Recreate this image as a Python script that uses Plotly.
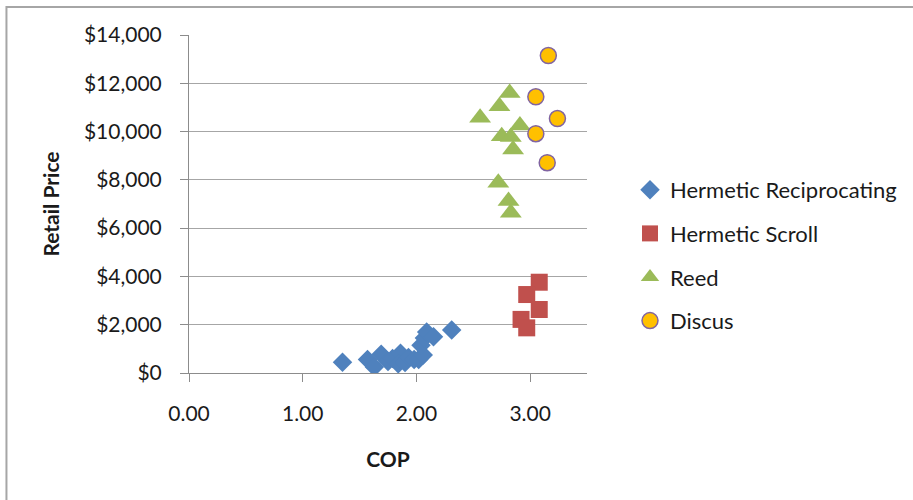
import plotly.graph_objects as go

# COP vs retail price by compressor type
recip_cop = [1.35, 1.57, 1.63, 1.69, 1.75, 1.79, 1.86, 1.84, 1.90, 1.93, 1.98,
             2.02, 2.06, 2.04, 2.07, 2.09, 2.15, 2.31]
recip_price = [450, 560, 250, 780, 480, 600, 820, 380, 430, 640, 560,
               560, 750, 1150, 1450, 1700, 1500, 1780]

scroll_cop = [3.08, 2.97, 3.08, 2.92, 2.97]
scroll_price = [3760, 3250, 2630, 2220, 1870]

reed_cop = [2.82, 2.73, 2.56, 2.91, 2.75, 2.83, 2.85, 2.72, 2.81, 2.83]
reed_price = [11600, 11050, 10570, 10250, 9810, 9780, 9260, 7880, 7120, 6640]

discus_cop = [3.16, 3.05, 3.24, 3.05, 3.15]
discus_price = [13150, 11440, 10540, 9910, 8710]

y_ticks = [0, 2000, 4000, 6000, 8000, 10000, 12000, 14000]
y_labels = ["$" + format(v, ",") for v in y_ticks]
x_ticks = [0, 1, 2, 3]
x_labels = ["0.00", "1.00", "2.00", "3.00"]

FONT = "Lato"
TEXT = "#1a1a1a"
GRID = "#A6A6A6"
AXIS = "#8C8C8C"

fig = go.Figure()
fig.add_trace(go.Scatter(
    x=recip_cop, y=recip_price, mode="markers", name="Hermetic Reciprocating",
    legendgroup="a",
    marker=dict(symbol="diamond", size=15, color="#4F81BD", line=dict(width=0))))
fig.add_trace(go.Scatter(
    x=scroll_cop, y=scroll_price, mode="markers", name="Hermetic Scroll",
    legendgroup="b",
    marker=dict(symbol="square", size=17, color="#C0504D", line=dict(width=0))))
fig.add_trace(go.Scatter(
    x=reed_cop, y=reed_price, mode="markers", name="Reed",
    legendgroup="c",
    marker=dict(symbol="triangle-up", size=19, color="#9BBB59", line=dict(width=0))))
fig.add_trace(go.Scatter(
    x=discus_cop, y=discus_price, mode="markers", name="Discus",
    legendgroup="d",
    marker=dict(symbol="circle", size=16, color="#FFC000",
                line=dict(width=1.5, color="#8064A2"))))

# plot area: x 189..588 px, y 35..373 px
L, R, T, B = 189, 588, 35, 373
W, H = 913, 500
pw, ph = R - L, B - T

fig.update_layout(
    width=W, height=H,
    margin=dict(l=L, r=W - R, t=T, b=H - B, pad=0),
    paper_bgcolor="white", plot_bgcolor="white",
    font=dict(family=FONT, size=21, color=TEXT),
    showlegend=True,
    legend=dict(
        x=(630 - L) / pw, y=(B - 169) / ph, xanchor="left", yanchor="top",
        tracegroupgap=12, font=dict(family=FONT, size=22, color=TEXT),
        itemsizing="trace", bgcolor="rgba(0,0,0,0)"),
    xaxis=dict(
        range=[0, 3.5], tickvals=x_ticks, ticktext=x_labels,
        showgrid=False, zeroline=False,
        showline=True, linecolor=AXIS, linewidth=1,
        ticks="outside", ticklen=8, tickcolor=AXIS, tickwidth=1,
        ticklabelstandoff=14,
        title=dict(text="<b>COP</b>", font=dict(family=FONT, size=21, color=TEXT),
                   standoff=28),
        automargin=False),
    yaxis=dict(
        range=[0, 14000], tickvals=y_ticks, ticktext=y_labels,
        showgrid=True, gridcolor=GRID, gridwidth=1, zeroline=False,
        showline=True, linecolor=AXIS, linewidth=1,
        ticks="outside", ticklen=8, tickcolor=AXIS, tickwidth=1,
        ticklabelstandoff=14,
        title=dict(text="<b>Retail Price</b>",
                   font=dict(family=FONT, size=21, color=TEXT), standoff=18),
        automargin=False),
    shapes=[dict(
        type="rect", xref="paper", yref="paper",
        x0=(6 - L) / pw, x1=(W + 20 - L) / pw,
        y0=(B - (H + 20)) / ph, y1=(B - 7) / ph,
        line=dict(color="#A6A6A6", width=2), fillcolor="rgba(0,0,0,0)",
        layer="below")],
)

fig.write_html("out.html")
